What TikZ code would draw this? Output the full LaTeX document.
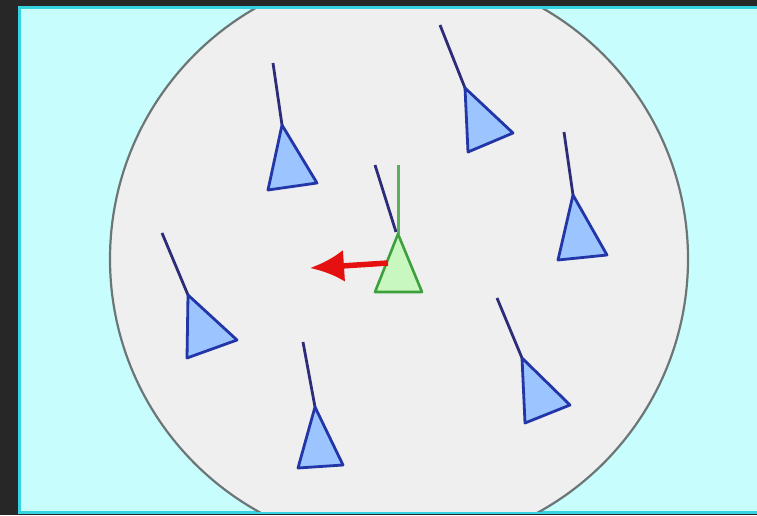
\documentclass[tikz,border=0pt]{standalone}
\usetikzlibrary{arrows.meta}

\definecolor{bgdark}{HTML}{272727}
\definecolor{frameedge}{HTML}{36D2E2}
\definecolor{framefill}{HTML}{C8FDFD}
\definecolor{zonefill}{HTML}{EFEFEF}
\definecolor{zoneedge}{HTML}{6C7676}
\definecolor{agentfill}{HTML}{9CC4FF}
\definecolor{agentedge}{HTML}{2236A8}
\definecolor{headline}{HTML}{2C2C78}
\definecolor{selffill}{HTML}{C8F8C0}
\definecolor{selfedge}{HTML}{3CA03C}
\definecolor{selfline}{HTML}{5CB05C}
\definecolor{pushred}{HTML}{E51010}

\begin{document}
\begin{tikzpicture}[x=1pt,y=-1pt]
    \tikzstyle{agent} = [draw=agentedge, fill=agentfill, line width=2.8pt, line join=round]
    \tikzstyle{heading} = [draw=headline, line width=2.8pt]
    \tikzstyle{self} = [draw=selfedge, fill=selffill, line width=2.6pt, line join=round]
    \tikzstyle{push} = [draw=pushred, line width=5.5pt, -{Latex[length=34pt,width=32pt]}]

    \useasboundingbox (0,0) rectangle (757,515);
    \fill [bgdark] (0,0) rectangle (757,515);
    \draw [frameedge, fill=framefill, line width=3pt] (19.5,7.5) rectangle (762,512.5);
    %
    \begin{scope}
        \clip (21,9) rectangle (762,511);
        \coordinate (centre) at (399,259);
        \draw [draw=zoneedge, fill=zonefill, line width=2.2pt] (centre) circle (289pt);
    \end{scope}
    %
    \foreach \tx/\ty/\ax/\ay/\px/\py/\qx/\qy in {
        273/63/282/125/268/190/317/183,
        440/25/465/88/468/152/513/133,
        162/233/188/295/187/358/237/340,
        497/298/522/358/525/423/570/405,
        564/132/573/195/558/260/607/255,
        303/342/315/407/298/468/343/465} {
        \draw [heading] (\tx,\ty) -- (\ax,\ay);
        \draw [agent] (\ax,\ay) -- (\px,\py) -- (\qx,\qy) -- cycle;
    }
    %
    \coordinate (oldtail) at (375,165);
    \coordinate (newtail) at (398,165);
    \coordinate (apex) at (398,234);
    \coordinate (baseleft) at (375,292);
    \coordinate (baseright) at (422,292);
    \coordinate (pushfrom) at (388,263);
    \coordinate (pushto) at (310,268);
    \draw [heading] (oldtail) -- (396,232);
    \draw [draw=selfline, line width=3pt] (newtail) -- (apex);
    \draw [self] (apex) -- (baseleft) -- (baseright) -- cycle;
    \path [push] (pushfrom) -- (pushto);

\end{tikzpicture}
\end{document}
